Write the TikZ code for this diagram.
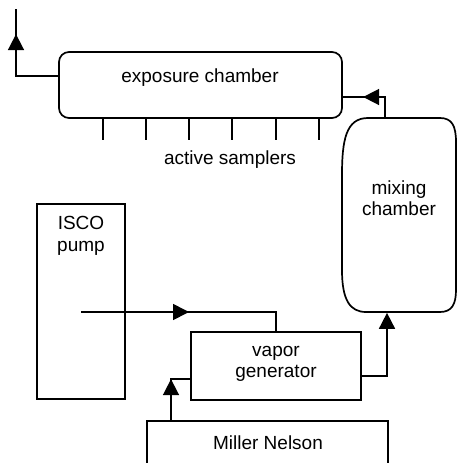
\documentclass[tikz,border=0pt]{standalone}
\usepackage{fontspec}
\setmainfont{Liberation Sans}
\usetikzlibrary{arrows.meta,decorations.markings}
\begin{document}
\begin{tikzpicture}[x=1pt,y=1pt,
  line width=1.7pt,
  font=\fontsize{19}{21.5}\selectfont,
  boxshape/.style={draw,rectangle,inner sep=0pt},
  hiddenbox/.style={rectangle,inner sep=0pt},
  lbl/.style={inner sep=0pt,align=center},
  tipa/.style={-{Triangle[length=16pt,width=16pt]}},
  arrowat/.style={postaction={decorate},decoration={markings,
     mark=at position #1 with {\arrow{Triangle[length=16pt,width=16pt]}}}}
]
\useasboundingbox (0,0) rectangle (458,-463);

% exposure chamber
\node[boxshape,rounded corners=10pt,minimum width=283pt,minimum height=66pt] (expo) at (200.5,-85) {};
\node[lbl,anchor=base] (expolbl) at (200,-82) {exposure chamber};

% samplers
\foreach \i/\xx in {1/103,2/146,3/189,4/232,5/276,6/319}{
  \coordinate (s\i) at (\xx,-140);
  \draw (expo.south -| s\i) -- (s\i);
}
\node[lbl,anchor=base] (actlbl) at (230,-164) {active samplers};

% mixing chamber
\node[hiddenbox,minimum width=114pt,minimum height=194pt] (mix) at (399,-215) {};
\draw (342,-215) -- (342,-175) .. controls (342,-140) and (346,-118) .. (368,-118)
  -- (440,-118) .. controls (452,-118) and (456,-126) .. (456,-142)
  -- (456,-290) .. controls (456,-304) and (452,-312) .. (440,-312)
  -- (366,-312) .. controls (350,-312) and (342,-300) .. (342,-270) -- cycle;
\node[lbl] (mixlbl) at (399,-198) {mixing\\chamber};

% ISCO pump
\node[boxshape,minimum width=88pt,minimum height=195pt] (isco) at (81,-301.5) {};
\node[lbl] (iscolbl) at (81,-236) {ISCO\\pump};

% vapor generator
\node[boxshape,minimum width=170pt,minimum height=68pt] (vap) at (276,-366) {};
\node[lbl] (vaplbl) at (276,-364) {vapor\\generator};

% Miller Nelson
\node[hiddenbox,minimum width=239pt,minimum height=60pt] (mill) at (267.5,-452) {};
\draw (mill.south west) -- (mill.north west) -- (mill.north east) -- (mill.south east);
\node[lbl,anchor=base] (milllbl) at (268,-449) {Miller Nelson};

% connectors
\coordinate (exit) at (16,-9);
\draw[arrowat=84pt] ([yshift=9pt]expo.west) -| (exit);

\draw[arrowat=42pt] ([xshift=-14pt]mix.north) |- ([yshift=-12pt]expo.east);

\coordinate (pumpout) at (81,-312);
\draw[arrowat=108pt] (pumpout) -| (vap.north);

\draw[tipa] ([yshift=-10pt]vap.east) -| ([xshift=-12pt]mix.south);

\draw[arrowat=42pt] ([xshift=-96.5pt]mill.north) |- ([yshift=-13pt]vap.west);
\end{tikzpicture}
\end{document}
